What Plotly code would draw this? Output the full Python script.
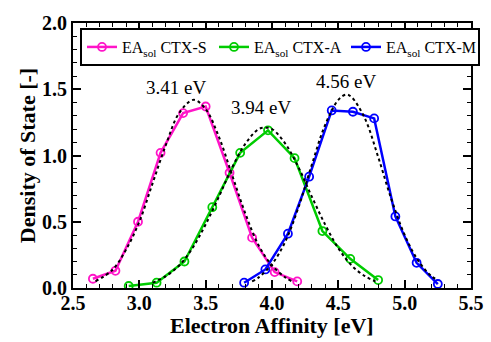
import plotly.graph_objects as go

# Data
s_x = [2.65, 2.82, 2.99, 3.16, 3.33, 3.50, 3.68, 3.85, 4.02, 4.19]
s_y = [0.07, 0.13, 0.50, 1.02, 1.32, 1.37, 0.87, 0.38, 0.12, 0.05]

a_x = [2.92, 3.13, 3.34, 3.55, 3.76, 3.97, 4.17, 4.38, 4.59, 4.80]
a_y = [0.015, 0.04, 0.20, 0.61, 1.02, 1.19, 0.98, 0.43, 0.22, 0.06]

m_x = [3.79, 3.95, 4.12, 4.28, 4.45, 4.61, 4.77, 4.93, 5.09, 5.25]
m_y = [0.04, 0.14, 0.41, 0.84, 1.34, 1.33, 1.28, 0.54, 0.19, 0.03]

# Dotted fitted curves
fs_x = [2.67, 2.80, 2.90, 3.00, 3.10, 3.20, 3.30, 3.41, 3.50, 3.60, 3.70, 3.80, 3.90, 4.00, 4.10, 4.15]
fs_y = [0.05, 0.14, 0.29, 0.50, 0.79, 1.08, 1.32, 1.42, 1.35, 1.14, 0.85, 0.56, 0.32, 0.17, 0.08, 0.05]

fa_x = [3.10, 3.20, 3.30, 3.40, 3.50, 3.60, 3.70, 3.80, 3.90, 3.95, 4.00, 4.10, 4.20, 4.30, 4.40, 4.50, 4.60, 4.70, 4.78]
fa_y = [0.04, 0.09, 0.17, 0.30, 0.48, 0.69, 0.91, 1.09, 1.20, 1.21, 1.20, 1.09, 0.91, 0.69, 0.48, 0.30, 0.17, 0.09, 0.05]

fm_x = [3.85, 3.90, 4.00, 4.10, 4.20, 4.30, 4.40, 4.50, 4.56, 4.60, 4.70, 4.80, 4.90, 5.00, 5.10, 5.20, 5.25]
fm_y = [0.05, 0.08, 0.18, 0.35, 0.61, 0.93, 1.23, 1.42, 1.46, 1.44, 1.28, 0.99, 0.67, 0.40, 0.21, 0.09, 0.06]

peak_x = [3.275, 3.92, 4.56]
peak_y = [1.51, 1.36, 1.555]
peak_labels = ["3.41 eV", "3.94 eV", "4.56 eV"]

names = ["EA<sub>sol</sub> CTX-S", "EA<sub>sol</sub> CTX-A", "EA<sub>sol</sub> CTX-M"]
colors = ["#ff14c8", "#00cc00", "#0000ff"]

x_title = "Electron Affinity [eV]"
y_title = "Density of State [-]"

FONT = "Liberation Serif, Times New Roman, serif"

fig = go.Figure()
for xs, ys, nm, c in [(s_x, s_y, names[0], colors[0]),
                      (a_x, a_y, names[1], colors[1]),
                      (m_x, m_y, names[2], colors[2])]:
    fig.add_trace(go.Scatter(
        x=xs, y=ys, name=nm, mode="lines+markers",
        line=dict(color=c, width=2.5),
        marker=dict(symbol="circle-open", size=8, color=c, line=dict(width=1.8, color=c)),
    ))

for xs, ys in [(fs_x, fs_y), (fa_x, fa_y), (fm_x, fm_y)]:
    fig.add_trace(go.Scatter(
        x=xs, y=ys, mode="lines", showlegend=False, hoverinfo="skip",
        line=dict(color="black", width=2, dash="dot", shape="spline"),
    ))

for px, py, t in zip(peak_x, peak_y, peak_labels):
    fig.add_annotation(x=px, y=py, text=t, showarrow=False,
                       font=dict(family=FONT, size=19, color="black"))

# x-axis title placed as a paper-anchored annotation for exact position
fig.add_annotation(x=0.5, y=-0.142, xref="paper", yref="paper", text=x_title,
                   showarrow=False, xanchor="center", yanchor="middle", borderpad=0,
                   font=dict(family=FONT, size=22, color="black", weight="bold"))

axis_common = dict(
    showline=True, linecolor="black", linewidth=2, mirror="ticks",
    ticks="inside", ticklen=8, tickwidth=1.5, tickcolor="black",
    showgrid=False, zeroline=False,
    tickfont=dict(family=FONT, size=20, color="black", weight="bold"),
)

fig.update_xaxes(
    range=[2.5, 5.5], dtick=0.5, tick0=2.5, tickformat=".1f",
    ticklabelstandoff=-4,
    minor=dict(dtick=0.1, ticks="inside", ticklen=4, tickcolor="black", tickwidth=1.2),
    **axis_common,
)
fig.update_yaxes(
    range=[0, 2.0], dtick=0.5, tick0=0, tickformat=".1f",
    minor=dict(dtick=0.1, ticks="inside", ticklen=4, tickcolor="black", tickwidth=1.2),
    title=dict(text=y_title, standoff=0,
               font=dict(family=FONT, size=22, color="black", weight="bold")),
    **axis_common,
)

fig.update_layout(
    width=491, height=342,
    margin=dict(l=73, r=20, t=23, b=54, autoexpand=False),
    plot_bgcolor="white", paper_bgcolor="white",
    font=dict(family=FONT, color="black"),
    legend=dict(
        orientation="h", x=0.0176, y=0.981, xanchor="left", yanchor="top",
        bgcolor="white", bordercolor="black", borderwidth=2,
        font=dict(family=FONT, size=16, color="black"),
        itemwidth=30, tracegroupgap=0, entrywidth=87, entrywidthmode="pixels",
    ),
)

fig.write_html("out.html", config={"displayModeBar": False},
               post_script="document.body.style.margin='0';document.body.style.overflow='hidden';")
